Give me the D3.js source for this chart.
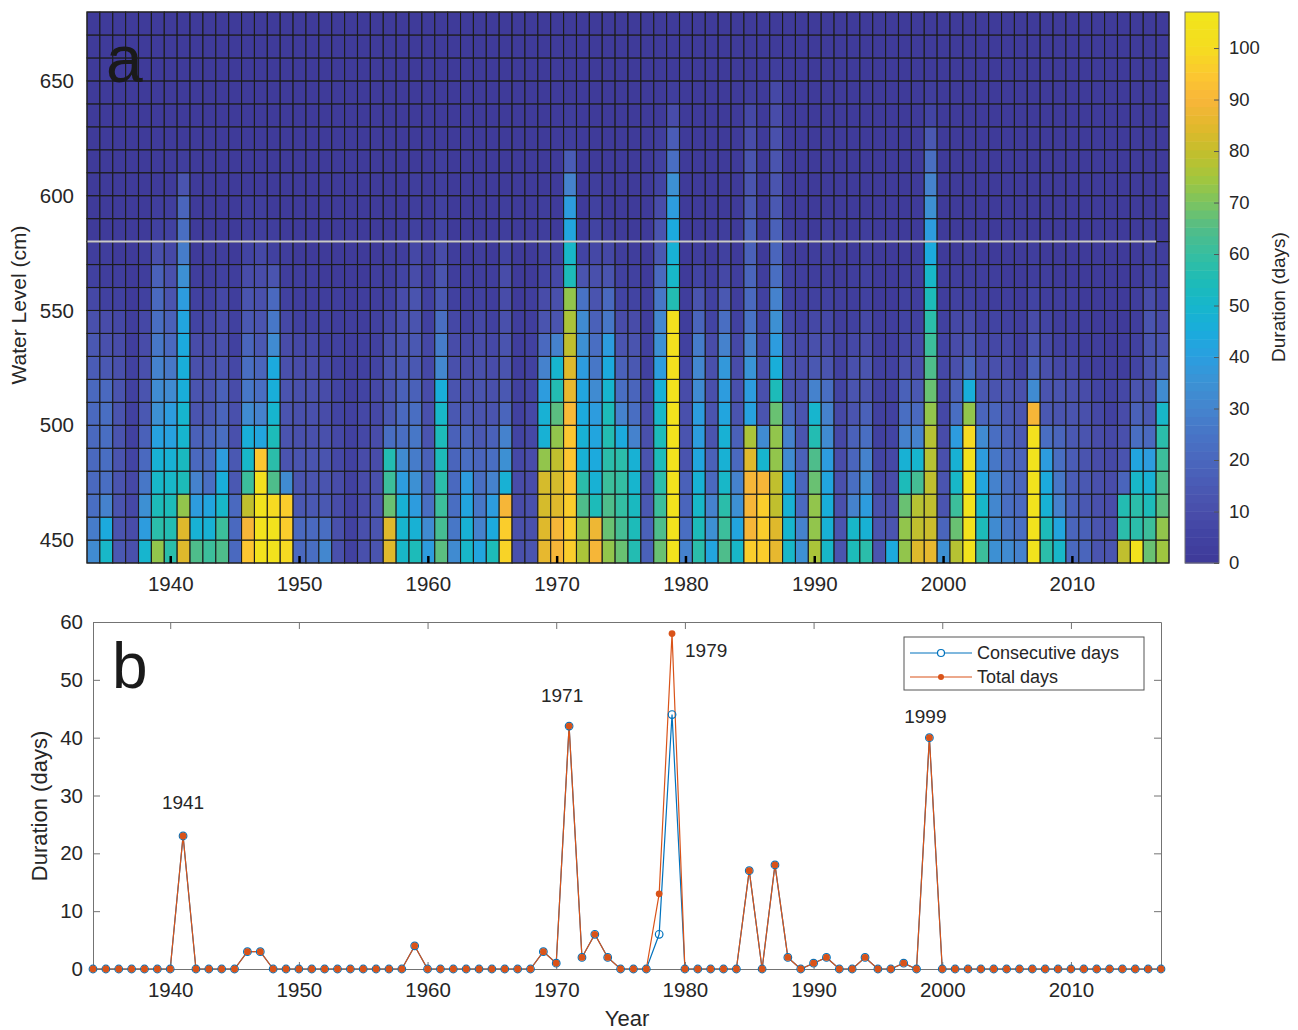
<!DOCTYPE html>
<html>
<head>
<meta charset="utf-8">
<script src="https://cdn.jsdelivr.net/npm/d3@7/dist/d3.min.js"></script>
<style>
  body { margin: 0; background: #fff; }
  svg { display: block; font-family: 'Liberation Sans', Arial, Helvetica, sans-serif; }
</style>
</head>
<body>
<svg id="chart" width="1298" height="1030"></svg>
<script>
const years = [1934, 1935, 1936, 1937, 1938, 1939, 1940, 1941, 1942, 1943, 1944, 1945, 1946, 1947, 1948, 1949,
  1950, 1951, 1952, 1953, 1954, 1955, 1956, 1957, 1958, 1959, 1960, 1961, 1962, 1963, 1964, 1965, 1966, 1967,
  1968, 1969, 1970, 1971, 1972, 1973, 1974, 1975, 1976, 1977, 1978, 1979, 1980, 1981, 1982, 1983, 1984, 1985,
  1986, 1987, 1988, 1989, 1990, 1991, 1992, 1993, 1994, 1995, 1996, 1997, 1998, 1999, 2000, 2001, 2002, 2003,
  2004, 2005, 2006, 2007, 2008, 2009, 2010, 2011, 2012, 2013, 2014, 2015, 2016, 2017]

// lower edge of each 10 cm water level class
const levels = [440, 450, 460, 470, 480, 490, 500, 510, 520, 530, 540, 550, 560, 570, 580, 590, 600, 610, 620, 630, 640, 650, 660, 670]

// days per year at each level class, one row per year, from 440 cm upward
const duration = [
  [33, 28, 23, 21, 21, 21, 21, 21, 16, 14, 11, 7, 4, 2, 1, 1, 1, 0, 0, 0, 0, 0, 0, 0],
  [51, 45, 29, 23, 23, 23, 23, 21, 14, 11, 9, 5, 3, 2, 1, 1, 0, 0, 0, 0, 0, 0, 0, 0],
  [15, 13, 13, 13, 13, 13, 13, 13, 11, 9, 7, 4, 2, 1, 1, 0, 0, 0, 0, 0, 0, 0, 0, 0],
  [11, 10, 8, 7, 6, 5, 5, 5, 4, 3, 2, 1, 1, 0, 0, 0, 0, 0, 0, 0, 0, 0, 0, 0],
  [50, 40, 35, 26, 21, 17, 15, 13, 11, 10, 8, 5, 3, 2, 1, 1, 0, 0, 0, 0, 0, 0, 0, 0],
  [73, 58, 54, 51, 48, 41, 35, 33, 29, 26, 23, 21, 17, 11, 4, 2, 1, 1, 0, 0, 0, 0, 0, 0],
  [58, 56, 54, 51, 48, 41, 39, 32, 26, 21, 17, 13, 11, 7, 4, 2, 1, 1, 0, 0, 0, 0, 0, 0],
  [85, 84, 73, 55, 53, 50, 49, 46, 46, 44, 42, 39, 35, 27, 23, 19, 13, 2, 1, 1, 0, 0, 0, 0],
  [64, 48, 39, 29, 21, 17, 13, 13, 11, 9, 6, 4, 2, 1, 1, 0, 0, 0, 0, 0, 0, 0, 0, 0],
  [61, 48, 42, 22, 21, 19, 15, 13, 11, 9, 7, 5, 3, 2, 1, 1, 0, 0, 0, 0, 0, 0, 0, 0],
  [64, 61, 51, 46, 39, 23, 19, 17, 13, 11, 9, 7, 4, 2, 1, 1, 0, 0, 0, 0, 0, 0, 0, 0],
  [21, 21, 21, 15, 15, 11, 11, 9, 7, 5, 4, 3, 2, 1, 1, 0, 0, 0, 0, 0, 0, 0, 0, 0],
  [95, 90, 79, 61, 51, 46, 32, 26, 23, 19, 15, 13, 9, 6, 3, 2, 1, 1, 0, 0, 0, 0, 0, 0],
  [104, 104, 104, 102, 95, 42, 29, 23, 19, 15, 13, 11, 9, 7, 3, 2, 1, 1, 0, 0, 0, 0, 0, 0],
  [104, 104, 100, 64, 58, 54, 50, 46, 45, 32, 26, 21, 13, 5, 2, 1, 1, 0, 0, 0, 0, 0, 0, 0],
  [100, 96, 96, 32, 13, 13, 13, 13, 11, 9, 7, 5, 3, 2, 1, 1, 0, 0, 0, 0, 0, 0, 0, 0],
  [21, 21, 15, 13, 13, 11, 11, 11, 9, 7, 5, 3, 2, 1, 1, 0, 0, 0, 0, 0, 0, 0, 0, 0],
  [23, 21, 15, 13, 13, 11, 11, 11, 9, 7, 5, 3, 2, 1, 1, 0, 0, 0, 0, 0, 0, 0, 0, 0],
  [31, 23, 15, 13, 13, 11, 9, 9, 7, 5, 4, 2, 1, 1, 0, 0, 0, 0, 0, 0, 0, 0, 0, 0],
  [11, 11, 10, 9, 8, 7, 6, 6, 5, 4, 3, 2, 1, 0, 0, 0, 0, 0, 0, 0, 0, 0, 0, 0],
  [5, 5, 5, 5, 4, 4, 4, 3, 3, 2, 2, 1, 1, 0, 0, 0, 0, 0, 0, 0, 0, 0, 0, 0],
  [11, 11, 10, 10, 9, 8, 7, 6, 5, 4, 3, 2, 1, 1, 0, 0, 0, 0, 0, 0, 0, 0, 0, 0],
  [13, 12, 12, 11, 10, 9, 8, 7, 6, 5, 4, 3, 2, 1, 0, 0, 0, 0, 0, 0, 0, 0, 0, 0],
  [85, 85, 68, 61, 56, 23, 15, 13, 13, 11, 7, 5, 3, 2, 1, 1, 0, 0, 0, 0, 0, 0, 0, 0],
  [51, 50, 48, 39, 32, 23, 21, 17, 15, 13, 11, 9, 6, 3, 2, 1, 1, 0, 0, 0, 0, 0, 0, 0],
  [54, 47, 40, 35, 27, 26, 23, 17, 15, 14, 13, 12, 9, 7, 4, 3, 2, 1, 1, 0, 0, 0, 0, 0],
  [39, 32, 23, 19, 17, 13, 11, 10, 8, 7, 5, 4, 3, 2, 1, 1, 0, 0, 0, 0, 0, 0, 0, 0],
  [66, 63, 61, 58, 55, 54, 51, 46, 31, 28, 23, 15, 13, 9, 6, 4, 3, 2, 1, 1, 0, 0, 0, 0],
  [32, 26, 23, 21, 19, 17, 15, 13, 11, 9, 7, 5, 3, 2, 1, 1, 0, 0, 0, 0, 0, 0, 0, 0],
  [51, 48, 42, 39, 23, 19, 15, 11, 9, 7, 5, 3, 2, 1, 1, 0, 0, 0, 0, 0, 0, 0, 0, 0],
  [42, 29, 26, 23, 19, 15, 13, 13, 11, 9, 7, 5, 3, 2, 1, 1, 0, 0, 0, 0, 0, 0, 0, 0],
  [54, 45, 40, 30, 22, 17, 13, 11, 9, 7, 5, 3, 2, 1, 1, 0, 0, 0, 0, 0, 0, 0, 0, 0],
  [97, 96, 90, 47, 35, 29, 19, 15, 13, 12, 11, 10, 9, 6, 3, 2, 1, 1, 0, 0, 0, 0, 0, 0],
  [11, 11, 9, 9, 7, 6, 5, 4, 3, 2, 2, 1, 1, 0, 0, 0, 0, 0, 0, 0, 0, 0, 0, 0],
  [13, 11, 11, 10, 9, 8, 7, 6, 5, 4, 3, 2, 1, 1, 0, 0, 0, 0, 0, 0, 0, 0, 0, 0],
  [86, 85, 83, 82, 73, 48, 47, 40, 29, 21, 13, 9, 6, 4, 3, 2, 1, 0, 0, 0, 0, 0, 0, 0],
  [90, 90, 84, 82, 79, 73, 66, 56, 50, 29, 13, 11, 7, 4, 1, 1, 0, 0, 0, 0, 0, 0, 0, 0],
  [96, 96, 96, 95, 95, 94, 91, 86, 84, 80, 76, 72, 54, 51, 42, 40, 30, 16, 3, 2, 1, 0, 0, 0],
  [76, 73, 64, 58, 48, 47, 45, 42, 40, 35, 32, 25, 13, 6, 2, 1, 1, 0, 0, 0, 0, 0, 0, 0],
  [90, 88, 54, 48, 45, 42, 39, 32, 26, 23, 17, 13, 11, 8, 6, 4, 2, 1, 0, 0, 0, 0, 0, 0],
  [73, 68, 64, 61, 58, 56, 54, 50, 45, 40, 26, 21, 13, 7, 2, 1, 0, 0, 0, 0, 0, 0, 0, 0],
  [68, 62, 60, 60, 58, 45, 29, 23, 17, 13, 9, 6, 4, 2, 1, 0, 0, 0, 0, 0, 0, 0, 0, 0],
  [56, 55, 52, 50, 48, 29, 23, 19, 15, 12, 9, 6, 4, 2, 1, 0, 0, 0, 0, 0, 0, 0, 0, 0],
  [17, 17, 15, 13, 13, 11, 9, 7, 5, 4, 3, 2, 1, 0, 0, 0, 0, 0, 0, 0, 0, 0, 0, 0],
  [68, 64, 61, 58, 55, 54, 51, 48, 40, 35, 31, 26, 21, 15, 13, 9, 6, 4, 2, 1, 0, 0, 0, 0],
  [105, 105, 105, 104, 104, 104, 104, 104, 103, 103, 102, 56, 51, 48, 45, 40, 35, 23, 16, 9, 3, 1, 0, 0],
  [29, 23, 19, 17, 13, 13, 11, 9, 7, 5, 3, 2, 1, 0, 0, 0, 0, 0, 0, 0, 0, 0, 0, 0],
  [58, 54, 51, 48, 42, 39, 39, 32, 31, 28, 20, 13, 6, 3, 1, 1, 0, 0, 0, 0, 0, 0, 0, 0],
  [42, 35, 29, 21, 17, 13, 13, 11, 11, 9, 6, 4, 2, 1, 0, 0, 0, 0, 0, 0, 0, 0, 0, 0],
  [64, 61, 58, 51, 48, 47, 42, 39, 37, 30, 23, 15, 8, 5, 2, 1, 0, 0, 0, 0, 0, 0, 0, 0],
  [51, 42, 35, 29, 21, 17, 13, 11, 10, 7, 5, 3, 2, 1, 0, 0, 0, 0, 0, 0, 0, 0, 0, 0],
  [96, 90, 90, 90, 85, 76, 41, 39, 36, 29, 24, 21, 19, 18, 17, 14, 13, 12, 10, 8, 3, 1, 0, 0],
  [96, 96, 96, 90, 50, 32, 13, 11, 11, 8, 6, 4, 2, 1, 0, 0, 0, 0, 0, 0, 0, 0, 0, 0],
  [86, 84, 80, 79, 73, 72, 68, 55, 46, 39, 34, 30, 23, 20, 18, 15, 13, 12, 11, 9, 7, 3, 1, 0],
  [51, 50, 48, 42, 32, 29, 21, 13, 13, 11, 8, 5, 4, 3, 2, 1, 0, 0, 0, 0, 0, 0, 0, 0],
  [35, 29, 21, 19, 17, 13, 13, 11, 9, 7, 5, 3, 2, 1, 0, 0, 0, 0, 0, 0, 0, 0, 0, 0],
  [76, 72, 72, 68, 64, 56, 50, 29, 15, 11, 8, 5, 3, 2, 1, 0, 0, 0, 0, 0, 0, 0, 0, 0],
  [51, 48, 46, 42, 39, 32, 29, 23, 13, 10, 7, 5, 3, 2, 2, 1, 0, 0, 0, 0, 0, 0, 0, 0],
  [13, 13, 11, 11, 9, 8, 7, 6, 5, 4, 3, 2, 1, 0, 0, 0, 0, 0, 0, 0, 0, 0, 0, 0],
  [55, 51, 29, 23, 19, 17, 13, 13, 11, 8, 5, 3, 2, 1, 0, 0, 0, 0, 0, 0, 0, 0, 0, 0],
  [57, 48, 39, 32, 29, 23, 17, 13, 12, 9, 7, 5, 4, 3, 2, 1, 0, 0, 0, 0, 0, 0, 0, 0],
  [13, 13, 11, 7, 6, 5, 5, 5, 5, 3, 2, 1, 0, 0, 0, 0, 0, 0, 0, 0, 0, 0, 0, 0],
  [45, 13, 11, 9, 7, 6, 5, 5, 4, 3, 2, 1, 0, 0, 0, 0, 0, 0, 0, 0, 0, 0, 0, 0],
  [73, 72, 68, 54, 48, 29, 23, 17, 11, 8, 6, 4, 2, 1, 1, 0, 0, 0, 0, 0, 0, 0, 0, 0],
  [84, 80, 78, 63, 50, 29, 21, 15, 10, 7, 5, 3, 2, 1, 0, 0, 0, 0, 0, 0, 0, 0, 0, 0],
  [86, 81, 80, 79, 78, 77, 73, 68, 64, 61, 58, 54, 51, 45, 40, 35, 30, 23, 14, 6, 2, 1, 0, 0],
  [35, 19, 13, 13, 11, 9, 8, 8, 8, 6, 4, 3, 2, 1, 0, 0, 0, 0, 0, 0, 0, 0, 0, 0],
  [78, 68, 61, 51, 48, 40, 23, 17, 11, 9, 7, 4, 2, 1, 0, 0, 0, 0, 0, 0, 0, 0, 0, 0],
  [104, 104, 104, 104, 103, 100, 73, 46, 20, 13, 9, 5, 3, 2, 1, 0, 0, 0, 0, 0, 0, 0, 0, 0],
  [61, 55, 51, 42, 39, 32, 19, 15, 11, 8, 5, 3, 2, 1, 0, 0, 0, 0, 0, 0, 0, 0, 0, 0],
  [35, 32, 31, 29, 26, 23, 19, 13, 11, 7, 6, 3, 2, 1, 0, 0, 0, 0, 0, 0, 0, 0, 0, 0],
  [32, 26, 23, 22, 19, 17, 15, 13, 9, 7, 4, 2, 1, 0, 0, 0, 0, 0, 0, 0, 0, 0, 0, 0],
  [29, 23, 21, 19, 17, 15, 13, 11, 5, 3, 2, 1, 0, 0, 0, 0, 0, 0, 0, 0, 0, 0, 0, 0],
  [105, 105, 105, 104, 104, 103, 90, 33, 17, 13, 10, 6, 3, 2, 1, 0, 0, 0, 0, 0, 0, 0, 0, 0],
  [58, 54, 48, 45, 39, 23, 15, 13, 11, 7, 6, 3, 2, 1, 0, 0, 0, 0, 0, 0, 0, 0, 0, 0],
  [51, 42, 29, 26, 23, 19, 13, 13, 7, 5, 3, 2, 1, 0, 0, 0, 0, 0, 0, 0, 0, 0, 0, 0],
  [21, 19, 17, 16, 16, 15, 13, 11, 7, 4, 3, 2, 1, 0, 0, 0, 0, 0, 0, 0, 0, 0, 0, 0],
  [19, 17, 15, 15, 13, 13, 11, 10, 4, 3, 2, 1, 0, 0, 0, 0, 0, 0, 0, 0, 0, 0, 0, 0],
  [13, 13, 11, 11, 9, 9, 7, 6, 3, 2, 1, 1, 0, 0, 0, 0, 0, 0, 0, 0, 0, 0, 0, 0],
  [13, 11, 9, 9, 7, 7, 5, 4, 2, 1, 1, 0, 0, 0, 0, 0, 0, 0, 0, 0, 0, 0, 0, 0],
  [79, 58, 56, 19, 13, 11, 9, 7, 3, 2, 1, 0, 0, 0, 0, 0, 0, 0, 0, 0, 0, 0, 0, 0],
  [104, 58, 57, 51, 42, 23, 17, 13, 6, 4, 3, 2, 1, 0, 0, 0, 0, 0, 0, 0, 0, 0, 0, 0],
  [68, 61, 54, 48, 39, 21, 15, 13, 13, 13, 12, 9, 6, 4, 2, 1, 0, 0, 0, 0, 0, 0, 0, 0],
  [74, 72, 66, 64, 61, 57, 51, 33, 17, 13, 9, 6, 4, 2, 1, 0, 0, 0, 0, 0, 0, 0, 0, 0]
]

// panel b: days above the 580 cm threshold
const consecutiveDays = [
  0, 0, 0, 0, 0, 0, // 1934-1939
  0, 23, 0, 0, 0, 0, 3, 3, 0, 0, // 1940s
  0, 0, 0, 0, 0, 0, 0, 0, 0, 4, // 1950s
  0, 0, 0, 0, 0, 0, 0, 0, 0, 3, // 1960s
  1, 42, 2, 6, 2, 0, 0, 0, 6, 44, // 1970s
  0, 0, 0, 0, 0, 17, 0, 18, 2, 0, // 1980s
  1, 2, 0, 0, 2, 0, 0, 1, 0, 40, // 1990s
  0, 0, 0, 0, 0, 0, 0, 0, 0, 0, // 2000s
  0, 0, 0, 0, 0, 0, 0, 0 // 2010-2017
]
const totalDays = [
  0, 0, 0, 0, 0, 0, // 1934-1939
  0, 23, 0, 0, 0, 0, 3, 3, 0, 0, // 1940s
  0, 0, 0, 0, 0, 0, 0, 0, 0, 4, // 1950s
  0, 0, 0, 0, 0, 0, 0, 0, 0, 3, // 1960s
  1, 42, 2, 6, 2, 0, 0, 0, 13, 58, // 1970s
  0, 0, 0, 0, 0, 17, 0, 18, 2, 0, // 1980s
  1, 2, 0, 0, 2, 0, 0, 1, 0, 40, // 1990s
  0, 0, 0, 0, 0, 0, 0, 0, 0, 0, // 2000s
  0, 0, 0, 0, 0, 0, 0, 0 // 2010-2017
]
const peakYears = [1941, 1971, 1979, 1999]

const thresholdLevel = 580
const colorMax = 107
const yearTicks = [1940, 1950, 1960, 1970, 1980, 1990, 2000, 2010]
const levelTicks = [450, 500, 550, 600, 650]
const colorTicks = [0, 10, 20, 30, 40, 50, 60, 70, 80, 90, 100]
const durationTicks = [0, 10, 20, 30, 40, 50, 60]

// parula-like map, as the printed figure shows it
const paletteAt = [0, 5, 10, 15, 20, 25, 30, 35, 40, 45, 50, 55, 60, 65, 70, 75, 80, 85, 90, 95, 100, 107]
const paletteColors = ['#3f3a98', '#4142a1', '#494eaa', '#4a5ab4', '#4a67bd', '#4874c6', '#4484ce', '#3c92d4',
  '#2a9ee0', '#1aacdc', '#16b6cc', '#1ebcb6', '#36bea0', '#52bd88', '#7cc460', '#a4c63c', '#c4be2c', '#e2b82c',
  '#f8b63a', '#fcc830', '#f5dc20', '#f0e61c']

const svg = d3.select('#chart')
const ink = '#262626'
const tickFont = 20.5

const cmap = d3.scaleLinear().domain(paletteAt).range(paletteColors).clamp(true)
const nBands = 64
const bandColor = (v) => {
  var b = Math.min(nBands - 1, Math.floor(v / colorMax * nBands))
  return cmap((b + 0.5) * colorMax / nBands)
}

// ---------- panel a: heat map ----------
const xHeat = d3.scaleBand().domain(years).range([87, 1169])
const yHeat = d3.scaleLinear().domain([440, 680]).range([563, 12])

const cells = []
years.forEach((yr, i) => {
  levels.forEach((lv, j) => cells.push({ year: yr, level: lv, value: duration[i][j] }))
})

const gHeat = svg.append('g')
gHeat.selectAll('rect.cell')
  .data(cells)
  .enter()
  .append('rect')
  .attr('class', 'cell')
  .attr('x', (d) => xHeat(d.year))
  .attr('y', (d) => yHeat(d.level + 10))
  .attr('width', xHeat.bandwidth())
  .attr('height', (d) => yHeat(d.level) - yHeat(d.level + 10))
  .attr('fill', (d) => bandColor(d.value))
  .attr('stroke', '#1c1c1c')
  .attr('stroke-width', 1.1)

// threshold line
gHeat.append('line')
  .attr('x1', xHeat(years[0]))
  .attr('x2', xHeat(2016) + xHeat.bandwidth())
  .attr('y1', yHeat(thresholdLevel))
  .attr('y2', yHeat(thresholdLevel))
  .attr('stroke', '#c9c9c9')
  .attr('stroke-width', 2)

gHeat.append('rect')
  .attr('x', 87).attr('y', 12).attr('width', 1082).attr('height', 551)
  .attr('fill', 'none').attr('stroke', ink).attr('stroke-width', 1)

const xHeatAxis = gHeat.append('g')
  .attr('transform', 'translate(0,563)')
  .call(d3.axisBottom(xHeat).tickValues(yearTicks).tickSizeInner(-7).tickSizeOuter(0).tickPadding(13))
xHeatAxis.select('.domain').remove()
xHeatAxis.selectAll('.tick line').attr('stroke', '#000').attr('stroke-width', 2.5)
xHeatAxis.selectAll('.tick text').attr('font-size', tickFont).attr('fill', ink).attr('font-family', null)

const yHeatAxis = gHeat.append('g')
  .attr('transform', 'translate(87,0)')
  .call(d3.axisLeft(yHeat).tickValues(levelTicks).tickSize(0).tickPadding(13))
yHeatAxis.select('.domain').remove()
yHeatAxis.selectAll('.tick text').attr('font-size', tickFont).attr('fill', ink).attr('font-family', null)

svg.append('text')
  .attr('transform', 'translate(26,305) rotate(-90)')
  .attr('text-anchor', 'middle')
  .attr('font-size', 21)
  .attr('fill', ink)
  .text('Water Level (cm)')

svg.append('text')
  .attr('x', 106).attr('y', 82)
  .attr('font-size', 66)
  .attr('fill', '#1a1a1a')
  .text('a')

// colorbar
const cScaleY = d3.scaleLinear().domain([0, colorMax]).range([563, 12])
const bands = d3.range(nBands)
const gBar = svg.append('g')
gBar.selectAll('rect.band')
  .data(bands)
  .enter()
  .append('rect')
  .attr('class', 'band')
  .attr('x', 1185)
  .attr('width', 34)
  .attr('y', (b) => cScaleY((b + 1) * colorMax / nBands))
  .attr('height', (b) => cScaleY(b * colorMax / nBands) - cScaleY((b + 1) * colorMax / nBands) + 0.5)
  .attr('fill', (b) => cmap((b + 0.5) * colorMax / nBands))
gBar.append('rect')
  .attr('x', 1185).attr('y', 12).attr('width', 34).attr('height', 551)
  .attr('fill', 'none').attr('stroke', '#6e6e6e').attr('stroke-width', 1)
const barAxis = gBar.append('g')
  .attr('transform', 'translate(1219,0)')
  .call(d3.axisRight(cScaleY).tickValues(colorTicks).tickSizeInner(-5).tickSizeOuter(0).tickPadding(10))
barAxis.select('.domain').remove()
barAxis.selectAll('.tick line').attr('stroke', '#555')
barAxis.selectAll('.tick text').attr('font-size', 18.5).attr('fill', ink).attr('font-family', null)

svg.append('text')
  .attr('transform', 'translate(1285,297) rotate(-90)')
  .attr('text-anchor', 'middle')
  .attr('font-size', 19)
  .attr('fill', ink)
  .text('Duration (days)')

// ---------- panel b: durations above threshold ----------
const xLine = d3.scaleLinear().domain([1934, 2017]).range([93, 1161])
const yLine = d3.scaleLinear().domain([0, 60]).range([969, 622])

const gLine = svg.append('g')
const boxColor = '#737373'

const consec = years.map((yr, i) => ({ year: yr, value: consecutiveDays[i] }))
const total = years.map((yr, i) => ({ year: yr, value: totalDays[i] }))
const lineGen = d3.line().x((d) => xLine(d.year)).y((d) => yLine(d.value))

gLine.append('path')
  .datum(consec)
  .attr('d', lineGen)
  .attr('fill', 'none')
  .attr('stroke', '#0072BD')
  .attr('stroke-width', 1.2)
gLine.append('path')
  .datum(total)
  .attr('d', lineGen)
  .attr('fill', 'none')
  .attr('stroke', '#D95319')
  .attr('stroke-width', 1.2)

// axes box with inward ticks on all sides
const axB = gLine.append('g').attr('transform', 'translate(0,969)')
  .call(d3.axisBottom(xLine).tickValues(yearTicks).tickFormat(d3.format('d')).tickSizeInner(-7).tickSizeOuter(0).tickPadding(13))
const axT = gLine.append('g').attr('transform', 'translate(0,622)')
  .call(d3.axisTop(xLine).tickValues(yearTicks).tickFormat('').tickSizeInner(-7).tickSizeOuter(0))
const axL = gLine.append('g').attr('transform', 'translate(93,0)')
  .call(d3.axisLeft(yLine).tickValues(durationTicks).tickSizeInner(-7).tickSizeOuter(0).tickPadding(10))
const axR = gLine.append('g').attr('transform', 'translate(1161,0)')
  .call(d3.axisRight(yLine).tickValues(durationTicks).tickFormat('').tickSizeInner(-7).tickSizeOuter(0))
;[axB, axT, axL, axR].forEach((a) => {
  a.select('.domain').attr('stroke', boxColor)
  a.selectAll('.tick line').attr('stroke', boxColor)
  a.selectAll('.tick text').attr('font-size', tickFont).attr('fill', ink).attr('font-family', null)
})

gLine.selectAll('circle.consec')
  .data(consec)
  .enter()
  .append('circle')
  .attr('class', 'consec')
  .attr('cx', (d) => xLine(d.year))
  .attr('cy', (d) => yLine(d.value))
  .attr('r', 3.8)
  .attr('fill', 'none')
  .attr('stroke', '#0072BD')
  .attr('stroke-width', 1.2)
gLine.selectAll('circle.total')
  .data(total)
  .enter()
  .append('circle')
  .attr('class', 'total')
  .attr('cx', (d) => xLine(d.year))
  .attr('cy', (d) => yLine(d.value))
  .attr('r', 3.4)
  .attr('fill', '#D95319')

// peak year labels
const peakOffset = { 1941: [0, -34, 'middle'], 1971: [-7, -31, 'middle'], 1979: [13, 17, 'start'], 1999: [-4, -21, 'middle'] }
gLine.selectAll('text.peak')
  .data(peakYears)
  .enter()
  .append('text')
  .attr('class', 'peak')
  .attr('x', (yr) => xLine(yr) + peakOffset[yr][0])
  .attr('y', (yr) => yLine(totalDays[years.indexOf(yr)]) + peakOffset[yr][1])
  .attr('dy', '0.35em')
  .attr('text-anchor', (yr) => peakOffset[yr][2])
  .attr('font-size', 19)
  .attr('fill', ink)
  .text((yr) => yr)

svg.append('text')
  .attr('x', 112).attr('y', 688)
  .attr('font-size', 64)
  .attr('fill', '#1a1a1a')
  .text('b')

svg.append('text')
  .attr('x', 627).attr('y', 1026)
  .attr('text-anchor', 'middle')
  .attr('font-size', 22)
  .attr('fill', ink)
  .text('Year')

svg.append('text')
  .attr('transform', 'translate(47,806) rotate(-90)')
  .attr('text-anchor', 'middle')
  .attr('font-size', 22)
  .attr('fill', ink)
  .text('Duration (days)')

// legend
const legend = svg.append('g').attr('transform', 'translate(904,637)')
legend.append('rect')
  .attr('width', 240).attr('height', 53)
  .attr('fill', '#fff').attr('stroke', '#555').attr('stroke-width', 1)
const legendItems = [
  { name: 'Consecutive days', color: '#0072BD', open: true },
  { name: 'Total days', color: '#D95319', open: false }
]
const li = legend.selectAll('g.item')
  .data(legendItems)
  .enter()
  .append('g')
  .attr('class', 'item')
  .attr('transform', (d, i) => `translate(0,${16 + i * 24})`)
li.append('line')
  .attr('x1', 6).attr('x2', 68)
  .attr('stroke', (d) => d.color)
  .attr('stroke-width', 1.2)
li.append('circle')
  .attr('cx', 37)
  .attr('r', (d) => d.open ? 3.5 : 3)
  .attr('fill', (d) => d.open ? '#fff' : d.color)
  .attr('stroke', (d) => d.open ? d.color : 'none')
  .attr('stroke-width', 1.2)
li.append('text')
  .attr('x', 73)
  .attr('dy', '0.35em')
  .attr('font-size', 18)
  .attr('fill', ink)
  .text((d) => d.name)
</script>
</body>
</html>
